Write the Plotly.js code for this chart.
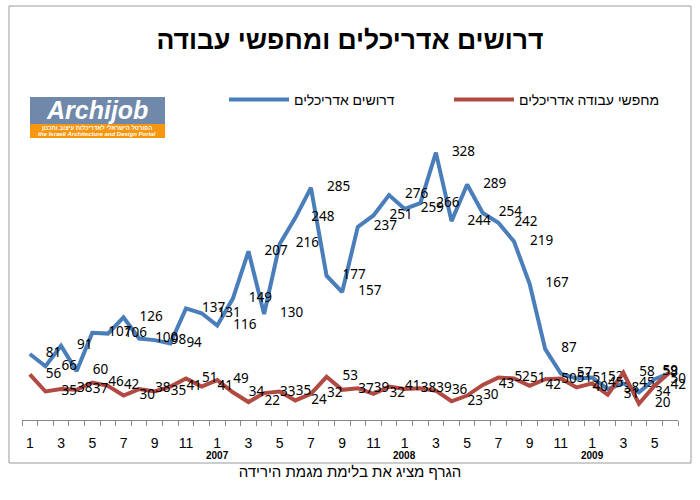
<!DOCTYPE html>
<html>
<head>
<meta charset="utf-8">
<script src="https://cdn.plot.ly/plotly-3.0.1.min.js"></script>
<style>
  html, body { margin: 0; padding: 0; background: #fff; }
  #chart { width: 700px; height: 500px; }
</style>
</head>
<body>
<div id="chart"></div>
<script>
// ---- data ----
const monthLabels = [1,2,3,4,5,6,7,8,9,10,11,12,
                     1,2,3,4,5,6,7,8,9,10,11,12,
                     1,2,3,4,5,6,7,8,9,10,11,12,
                     1,2,3,4,5,6];
const yearLabels = ['2007', '2008', '2009'];
const wantedName = 'דרושים אדריכלים';
const wanted = [81,66,91,60,107,106,126,100,98,94,137,131,
                116,149,207,130,216,248,285,177,157,237,251,276,
                259,266,328,244,289,254,242,219,167,87,57,51,
                52,38,45,34,50,58];
const seekersName = 'מחפשי עבודה אדריכלים';
const seekers = [56,35,38,37,46,42,30,38,35,41,51,41,
                 49,34,22,33,35,24,32,53,37,39,32,41,
                 38,39,36,23,30,43,52,51,42,50,51,40,
                 45,31,58,20,42,59];
const chartTitle = 'דרושים אדריכלים ומחפשי עבודה';
const axisTitle = 'הגרף מציג את בלימת מגמת הירידה';

// ---- geometry helpers (pixel -> paper) ----
const M = {l: 22, r: 22, t: 94, b: 80};
const PW = 700 - M.l - M.r, PH = 500 - M.t - M.b;
const px = v => (v - M.l) / PW;
const py = v => (500 - M.b - v) / PH;

const xs = monthLabels.map((m, i) => i + 1);
const tickvals = [], ticktext = [];
monthLabels.forEach((m, i) => { if (m % 2 === 1) { tickvals.push(i + 1); ticktext.push(String(m)); } });

const lastPos = arr => arr.map((v, i) => i === arr.length - 1 ? 'middle center' : 'middle right');
const labelFont = {family: 'Noto Sans, Liberation Sans, sans-serif', size: 13.5, color: '#000'};

const traces = [
  {
    x: xs, y: wanted, name: wantedName, type: 'scatter', mode: 'lines+markers+text',
    line: {color: '#4a7ebb', width: 4},
    marker: {size: 24, color: 'rgba(0,0,0,0)'},
    text: wanted.map(String), textposition: lastPos(wanted), textfont: labelFont,
    cliponaxis: false, hoverinfo: 'x+y'
  },
  {
    x: xs, y: seekers, name: seekersName, type: 'scatter', mode: 'lines+markers+text',
    line: {color: '#b04a42', width: 4},
    marker: {size: 24, color: 'rgba(0,0,0,0)'},
    text: seekers.map(String), textposition: lastPos(seekers), textfont: labelFont,
    cliponaxis: false, hoverinfo: 'x+y'
  }
];

const annotations = [];
// year labels under first month of each following year
monthLabels.forEach((m, i) => {
  if (m === 1 && i > 0) {
    const yl = yearLabels[Math.floor(i / 12) - 1];
    annotations.push({x: i + 1, xref: 'x', y: py(455), yref: 'paper', text: '<b>' + yl + '</b>',
      showarrow: false, font: {family: 'Liberation Sans, Arial, sans-serif', size: 10, color: '#000'},
      xanchor: 'center', yanchor: 'middle'});
  }
});
// logo texts
annotations.push({x: px(97), y: py(110), xref: 'paper', yref: 'paper', text: '<b><i>Archijob</i></b>',
  showarrow: false, font: {family: 'Liberation Sans, Arial, sans-serif', size: 25, color: '#fff'},
  xanchor: 'center', yanchor: 'middle'});
annotations.push({x: px(97), y: py(127.5), xref: 'paper', yref: 'paper',
  text: '<b>הפורטל הישראלי לאדריכלות עיצוב ותכנון</b>',
  showarrow: false, font: {family: 'Liberation Sans, Arial, sans-serif', size: 6, color: '#fff'},
  xanchor: 'center', yanchor: 'middle'});
annotations.push({x: px(97), y: py(133.5), xref: 'paper', yref: 'paper',
  text: '<b><i>the Israeli Architecture and Design Portal</i></b>',
  showarrow: false, font: {family: 'Liberation Sans, Arial, sans-serif', size: 6, color: '#fff'},
  xanchor: 'center', yanchor: 'middle'});

const shapes = [
  // chart frame
  {type: 'rect', xref: 'paper', yref: 'paper', x0: px(9), x1: px(691), y0: py(463), y1: py(6),
   line: {color: '#9a9a9a', width: 1}, fillcolor: 'rgba(0,0,0,0)', layer: 'below'},
  // logo
  {type: 'rect', xref: 'paper', yref: 'paper', x0: px(30), x1: px(165), y0: py(124), y1: py(97),
   line: {width: 0}, fillcolor: '#7089aa', layer: 'below'},
  {type: 'rect', xref: 'paper', yref: 'paper', x0: px(30), x1: px(165), y0: py(138), y1: py(124),
   line: {width: 0}, fillcolor: '#f7960f', layer: 'below'}
];

const layout = {
  width: 700, height: 500,
  margin: M,
  paper_bgcolor: '#fff', plot_bgcolor: '#fff',
  title: {text: '<b>' + chartTitle + '</b>', x: 0.5, xanchor: 'center', y: 1 - 40 / 500, yanchor: 'middle',
    font: {family: 'Liberation Sans, Arial, sans-serif', size: 26.5, color: '#000'}},
  showlegend: true,
  legend: {orientation: 'h', x: px(224), xanchor: 'left', y: py(100), yanchor: 'middle',
    font: {family: 'Liberation Sans, Arial, sans-serif', size: 14, color: '#000'},
    itemwidth: 60, entrywidth: 150, entrywidthmode: 'pixels',
    bgcolor: 'rgba(0,0,0,0)', traceorder: 'normal'},
  xaxis: {
    range: [0.5, monthLabels.length + 0.5], showgrid: false, zeroline: false,
    showline: true, linecolor: '#888', linewidth: 1,
    tickmode: 'array', tickvals: tickvals, ticktext: ticktext, ticks: '',
    ticklabelstandoff: 10,
    tickfont: {family: 'Liberation Sans, Arial, sans-serif', size: 14, color: '#000'},
    minor: {tick0: 0.5, dtick: 1, ticks: 'outside', ticklen: 5, tickcolor: '#888', showgrid: false},
    title: {text: axisTitle, standoff: 16, font: {family: 'Liberation Sans, Arial, sans-serif', size: 15, color: '#000'}},
    fixedrange: true
  },
  yaxis: {range: [0, 400], visible: false, fixedrange: true},
  annotations: annotations,
  shapes: shapes
};

Plotly.newPlot('chart', traces, layout, {displayModeBar: false, staticPlot: true});
</script>
</body>
</html>
